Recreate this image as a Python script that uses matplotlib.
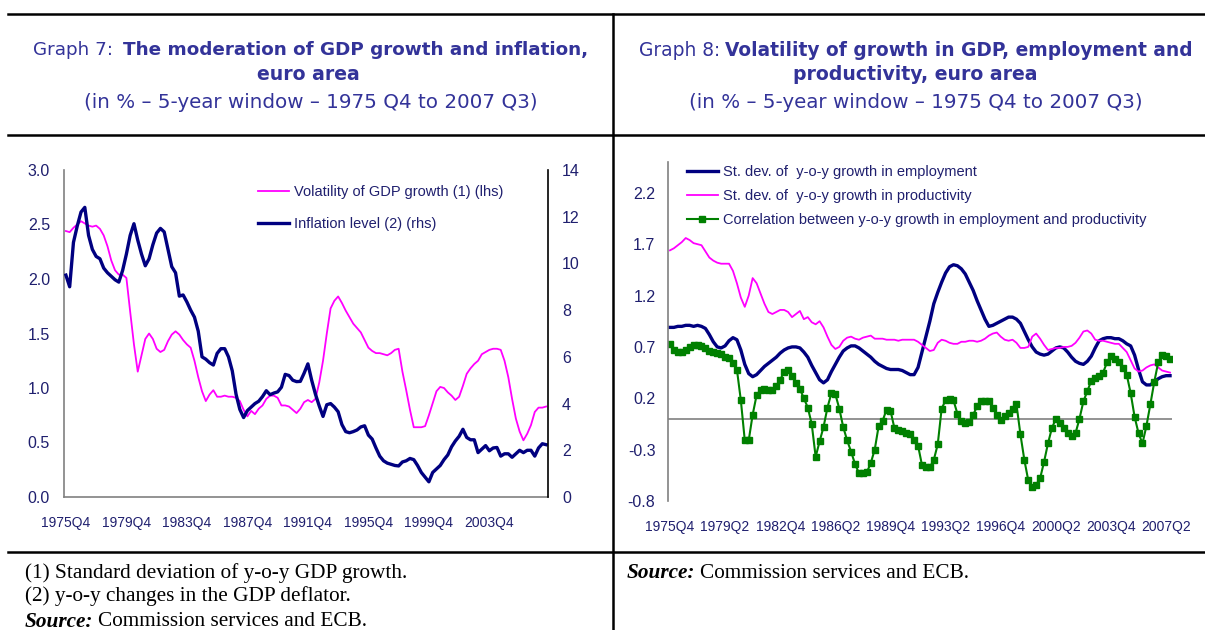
import numpy as np
import matplotlib
matplotlib.use('Agg')
import matplotlib.pyplot as plt
from matplotlib.lines import Line2D

W, H = 1205, 630

# quarterly categories, 1975Q4 to 2007Q3
quarters = ['1975Q4'] + ['%dQ%d' % (y, q) for y in range(1976, 2007) for q in range(1, 5)] + ['2007Q1', '2007Q2', '2007Q3']

# Graph 7 - volatility of GDP growth (lhs) and inflation (rhs)
gdp_vol = [2.44, 2.43, 2.47, 2.50, 2.53, 2.51, 2.49, 2.48, 2.49, 2.46,
           2.40, 2.30, 2.17, 2.08, 2.04, 2.04, 2.01, 1.70, 1.40, 1.15,
           1.30, 1.45, 1.50, 1.45, 1.36, 1.33, 1.35, 1.43, 1.49, 1.52,
           1.49, 1.44, 1.40, 1.37, 1.25, 1.10, 0.97, 0.88, 0.94, 0.98,
           0.92, 0.92, 0.93, 0.92, 0.92, 0.91, 0.88, 0.80, 0.74, 0.79,
           0.76, 0.81, 0.84, 0.90, 0.93, 0.93, 0.91, 0.84, 0.84, 0.83,
           0.80, 0.77, 0.81, 0.87, 0.89, 0.87, 0.90, 1.05, 1.25, 1.50,
           1.73, 1.80, 1.84, 1.78, 1.71, 1.65, 1.59, 1.55, 1.51, 1.44,
           1.37, 1.34, 1.32, 1.32, 1.31, 1.30, 1.32, 1.35, 1.36, 1.15,
           0.98, 0.80, 0.64, 0.64, 0.64, 0.65, 0.75, 0.86, 0.97, 1.01,
           1.00, 0.96, 0.93, 0.89, 0.92, 1.02, 1.13, 1.18, 1.22, 1.25,
           1.31, 1.33, 1.35, 1.36, 1.36, 1.35, 1.25, 1.10, 0.90, 0.72,
           0.60, 0.52, 0.58, 0.66, 0.78, 0.82, 0.82, 0.83]
inflation = [9.5, 9.0, 10.9, 11.6, 12.2, 12.4, 11.2, 10.6, 10.3, 10.2,
             9.8, 9.6, 9.45, 9.3, 9.2, 9.7, 10.4, 11.2, 11.7, 11.0,
             10.4, 9.9, 10.2, 10.8, 11.3, 11.5, 11.35, 10.6, 9.86, 9.6,
             8.6, 8.65, 8.35, 8.0, 7.7, 7.1, 6.0, 5.9, 5.75, 5.65,
             6.15, 6.35, 6.35, 6.0, 5.4, 4.4, 3.75, 3.4, 3.7, 3.85,
             4.0, 4.1, 4.3, 4.55, 4.38, 4.45, 4.5, 4.7, 5.25, 5.2,
             5.0, 4.94, 4.95, 5.3, 5.7, 5.0, 4.4, 3.9, 3.45, 3.95,
             4.0, 3.85, 3.65, 3.1, 2.8, 2.75, 2.8, 2.87, 3.0, 3.05,
             2.65, 2.48, 2.1, 1.75, 1.55, 1.45, 1.40, 1.35, 1.33, 1.5,
             1.55, 1.65, 1.6, 1.35, 1.05, 0.85, 0.65, 1.05, 1.2, 1.35,
             1.6, 1.8, 2.15, 2.4, 2.6, 2.9, 2.55, 2.45, 2.45, 1.9,
             2.05, 2.2, 1.98, 2.1, 2.12, 1.75, 1.85, 1.85, 1.7, 1.85,
             2.0, 1.9, 2.0, 2.0, 1.75, 2.1, 2.28, 2.24]

# Graph 8 - st. dev. of employment / productivity growth, correlation
sd_emp = [0.89, 0.89, 0.90, 0.90, 0.91, 0.91, 0.90, 0.91, 0.90, 0.88,
          0.82, 0.75, 0.70, 0.69, 0.71, 0.76, 0.79, 0.77, 0.67, 0.53,
          0.44, 0.41, 0.43, 0.47, 0.51, 0.54, 0.57, 0.60, 0.64, 0.67,
          0.69, 0.70, 0.70, 0.69, 0.65, 0.60, 0.52, 0.45, 0.38, 0.35,
          0.38, 0.46, 0.53, 0.60, 0.66, 0.69, 0.71, 0.71, 0.69, 0.66,
          0.63, 0.60, 0.56, 0.53, 0.51, 0.49, 0.48, 0.48, 0.48, 0.47,
          0.45, 0.43, 0.43, 0.50, 0.65, 0.80, 0.95, 1.12, 1.23, 1.33,
          1.42, 1.48, 1.50, 1.49, 1.46, 1.41, 1.33, 1.25, 1.15, 1.06,
          0.97, 0.90, 0.91, 0.93, 0.95, 0.97, 0.99, 0.99, 0.97, 0.93,
          0.85, 0.77, 0.70, 0.65, 0.63, 0.62, 0.63, 0.66, 0.69, 0.70,
          0.69, 0.65, 0.60, 0.56, 0.54, 0.53, 0.56, 0.61, 0.69, 0.76,
          0.78, 0.79, 0.79, 0.78, 0.78, 0.76, 0.73, 0.71, 0.62, 0.48,
          0.36, 0.33, 0.33, 0.36, 0.39, 0.41, 0.42, 0.42]
sd_prod = [1.64, 1.66, 1.69, 1.72, 1.76, 1.74, 1.71, 1.70, 1.69, 1.63,
           1.57, 1.54, 1.52, 1.51, 1.51, 1.51, 1.44, 1.32, 1.18, 1.09,
           1.20, 1.37, 1.32, 1.22, 1.12, 1.04, 1.02, 1.04, 1.06, 1.06,
           1.04, 0.99, 1.02, 1.05, 0.97, 0.99, 0.94, 0.92, 0.95, 0.89,
           0.80, 0.72, 0.68, 0.70, 0.76, 0.79, 0.80, 0.78, 0.77, 0.79,
           0.80, 0.81, 0.78, 0.78, 0.78, 0.77, 0.77, 0.77, 0.76, 0.77,
           0.77, 0.77, 0.77, 0.75, 0.72, 0.69, 0.66, 0.67, 0.74, 0.77,
           0.76, 0.74, 0.73, 0.73, 0.75, 0.75, 0.76, 0.76, 0.75, 0.76,
           0.78, 0.81, 0.83, 0.84, 0.80, 0.77, 0.76, 0.77, 0.74, 0.69,
           0.69, 0.70, 0.80, 0.83, 0.78, 0.72, 0.67, 0.68, 0.69, 0.69,
           0.70, 0.70, 0.71, 0.74, 0.79, 0.85, 0.86, 0.83, 0.77, 0.76,
           0.76, 0.75, 0.74, 0.73, 0.73, 0.69, 0.65, 0.57, 0.49, 0.46,
           0.47, 0.50, 0.52, 0.53, 0.50, 0.47, 0.46, 0.45]
corr = [0.73, 0.67, 0.65, 0.65, 0.67, 0.70, 0.72, 0.72, 0.71, 0.69,
        0.66, 0.65, 0.64, 0.63, 0.60, 0.59, 0.54, 0.48, 0.18, -0.21,
        -0.21, 0.04, 0.23, 0.28, 0.29, 0.28, 0.28, 0.32, 0.38, 0.46,
        0.48, 0.42, 0.35, 0.29, 0.20, 0.11, -0.05, -0.37, -0.22, -0.08,
        0.11, 0.25, 0.24, 0.10, -0.08, -0.21, -0.32, -0.44, -0.53, -0.53,
        -0.52, -0.43, -0.30, -0.07, -0.02, 0.09, 0.08, -0.09, -0.11, -0.12,
        -0.14, -0.15, -0.21, -0.26, -0.45, -0.47, -0.47, -0.40, -0.25, 0.10,
        0.18, 0.19, 0.18, 0.05, -0.02, -0.04, -0.03, 0.04, 0.12, 0.17,
        0.17, 0.17, 0.11, 0.04, -0.01, 0.03, 0.06, 0.10, 0.14, -0.15,
        -0.40, -0.60, -0.66, -0.64, -0.58, -0.42, -0.24, -0.09, 0.0, -0.04,
        -0.09, -0.14, -0.17, -0.14, 0.0, 0.17, 0.27, 0.37, 0.40, 0.42,
        0.45, 0.55, 0.61, 0.58, 0.55, 0.49, 0.43, 0.25, 0.02, -0.14,
        -0.24, -0.07, 0.14, 0.36, 0.55, 0.62, 0.61, 0.58]

left_ticks = [0.0, 0.5, 1.0, 1.5, 2.0, 2.5, 3.0]
right_ticks = [0, 2, 4, 6, 8, 10, 12, 14]
g8_ticks = [-0.8, -0.3, 0.2, 0.7, 1.2, 1.7, 2.2]

NAVY = '#000080'
MAG = '#FF00FF'
GREEN = '#008000'
TXT = '#1F1F6E'
TITLE = '#333399'
GREY = '#808080'
SANS = ['Liberation Sans', 'DejaVu Sans']
TFONT = ['DejaVu Sans']
SERIF = ['Liberation Serif', 'DejaVu Serif']
XTICK = 10
YTICK = 11.5


def fx(x):
    return x / W


def fy(y):
    return 1 - y / H


fig = plt.figure(figsize=(W / 100, H / 100), dpi=100)
renderer = fig.canvas.get_renderer()

# table frame lines
for x0, y0, x1, y1 in [(8, 14, W, 14), (8, 135, W, 135), (8, 552, W, 552), (613, 14, 613, H)]:
    fig.add_artist(Line2D([fx(x0), fx(x1)], [fy(y0), fy(y1)], color='black', lw=1.8,
                          transform=fig.transFigure))


def mixed_line(y, parts, cx=None, x0=None, gap=6, **kw):
    # parts: list of (text, weight, style) drawn side by side
    texts = []
    for s, wt, st in parts:
        texts.append(fig.text(0, fy(y), s, fontweight=wt, fontstyle=st, va='center', **kw))
    widths = [t.get_window_extent(renderer).width for t in texts]
    total = sum(widths) + gap * (len(texts) - 1)
    x = cx - total / 2 if cx is not None else x0
    for t, w in zip(texts, widths):
        t.set_x(fx(x))
        x += w + gap


# titles
mixed_line(50, [('Graph 7:', 'normal', 'normal'), ('The moderation of GDP growth and inflation,', 'bold', 'normal')],
           cx=311, gap=10, color=TITLE, family=TFONT, fontsize=13.2)
fig.text(fx(308), fy(75), 'euro area', fontweight='bold', ha='center', va='center', color=TITLE, family=TFONT,
         fontsize=13.6)
fig.text(fx(311), fy(103), '(in % \u2013 5-year window \u2013 1975 Q4 to 2007 Q3)', ha='center', va='center',
         color=TITLE, family=TFONT, fontsize=14.3)

mixed_line(50, [('Graph 8:', 'normal', 'normal'), ('Volatility of growth in GDP, employment and', 'bold', 'normal')],
           cx=916, gap=5, color=TITLE, family=TFONT, fontsize=13.4)
fig.text(fx(915), fy(75), 'productivity, euro area', fontweight='bold', ha='center', va='center', color=TITLE,
         family=TFONT, fontsize=13.6)
fig.text(fx(916), fy(103), '(in % \u2013 5-year window \u2013 1975 Q4 to 2007 Q3)', ha='center', va='center',
         color=TITLE, family=TFONT, fontsize=14.3)

# footnotes
fig.text(fx(25), fy(573), '(1) Standard deviation of y-o-y GDP growth.', va='center', family=SERIF, fontsize=15.3)
fig.text(fx(25), fy(596), '(2) y-o-y changes in the GDP deflator.', va='center', family=SERIF, fontsize=15.3)
mixed_line(622, [('Source:', 'bold', 'italic'), ('Commission services and ECB.', 'normal', 'normal')],
           x0=25, gap=5, family=SERIF, fontsize=15.3)
mixed_line(573, [('Source:', 'bold', 'italic'), ('Commission services and ECB.', 'normal', 'normal')],
           x0=627, gap=5, family=SERIF, fontsize=15.3)

x = np.arange(len(quarters))

# ---- Graph 7
ax1 = fig.add_axes([fx(64), fy(497), (548 - 64) / W, (497 - 170) / H])
l1, = ax1.plot(x, gdp_vol, color=MAG, lw=1.3)
ax1.set_xlim(-0.5, len(quarters) - 0.5)
ax1.set_ylim(0, 3)
ax1.set_yticks(left_ticks)
ax1.set_yticklabels(['%.1f' % v for v in left_ticks])
ax1.set_xticks(x[::16])
ax1.set_xticklabels(quarters[::16])
for lab in ax1.get_xticklabels() + ax1.get_yticklabels():
    lab.set_family(SANS)
ax1.tick_params(length=0, labelcolor=TXT)
ax1.tick_params(axis='y', pad=10, labelsize=YTICK)
ax1.tick_params(axis='x', pad=14, labelsize=XTICK)
ax1.spines['top'].set_visible(False)
ax1.spines['right'].set_visible(False)
ax1.spines['left'].set_color(GREY)
ax1.spines['bottom'].set_color(GREY)
ax1.spines['left'].set_linewidth(1.2)
ax1.spines['bottom'].set_linewidth(1.2)

ax2 = ax1.twinx()
l2, = ax2.plot(x, inflation, color=NAVY, lw=2.4)
ax2.set_ylim(0, 14)
ax2.set_yticks(right_ticks)
for lab in ax2.get_yticklabels():
    lab.set_family(SANS)
ax2.tick_params(length=0, labelsize=YTICK, labelcolor=TXT, pad=10)
ax2.spines['top'].set_visible(False)
ax2.spines['left'].set_visible(False)
ax2.spines['bottom'].set_visible(False)
ax2.spines['right'].set_color('black')
ax2.spines['right'].set_linewidth(1.2)

ax2.legend([l1, l2], ['Volatility of GDP growth (1) (lhs)', 'Inflation level (2) (rhs)'],
           loc='upper left', bbox_to_anchor=(fx(258), fy(185)), bbox_transform=fig.transFigure,
           frameon=False, borderpad=0, borderaxespad=0, handlelength=2.1, handletextpad=0.35,
           labelspacing=1.25, prop={'family': SANS, 'size': 10.5}, labelcolor=TXT)

# ---- Graph 8
ax3 = fig.add_axes([fx(668), fy(501), (1172 - 668) / W, (501 - 162) / H])
m1, = ax3.plot(x, sd_emp, color=NAVY, lw=2.4)
m2, = ax3.plot(x, sd_prod, color=MAG, lw=1.3)
m3, = ax3.plot(x, corr, color=GREEN, lw=1.5, marker='s', markersize=4.2)
ax3.axhline(0, color=GREY, lw=1.2, zorder=1)
ax3.set_xlim(-0.5, len(quarters) - 0.5)
ax3.set_ylim(-0.8, 2.5)
ax3.set_yticks(g8_ticks)
ax3.set_yticklabels(['%.1f' % v for v in g8_ticks])
ax3.set_xticks(x[::14])
ax3.set_xticklabels(quarters[::14])
for lab in ax3.get_xticklabels() + ax3.get_yticklabels():
    lab.set_family(SANS)
ax3.tick_params(length=0, labelcolor=TXT)
ax3.tick_params(axis='y', pad=9, labelsize=YTICK)
ax3.tick_params(axis='x', pad=14, labelsize=XTICK)
for s in ['top', 'right', 'bottom']:
    ax3.spines[s].set_visible(False)
ax3.spines['left'].set_color(GREY)
ax3.spines['left'].set_linewidth(1.2)

ax3.legend([m1, m2, m3], ['St. dev. of  y-o-y growth in employment', 'St. dev. of  y-o-y growth in productivity',
                          'Correlation between y-o-y growth in employment and productivity'],
           loc='upper left', bbox_to_anchor=(fx(687), fy(165)), bbox_transform=fig.transFigure,
           frameon=False, borderpad=0, borderaxespad=0, handlelength=2.1, handletextpad=0.35,
           labelspacing=0.7, prop={'family': SANS, 'size': 10.5}, labelcolor=TXT)

fig.savefig('out.png', dpi=100)
